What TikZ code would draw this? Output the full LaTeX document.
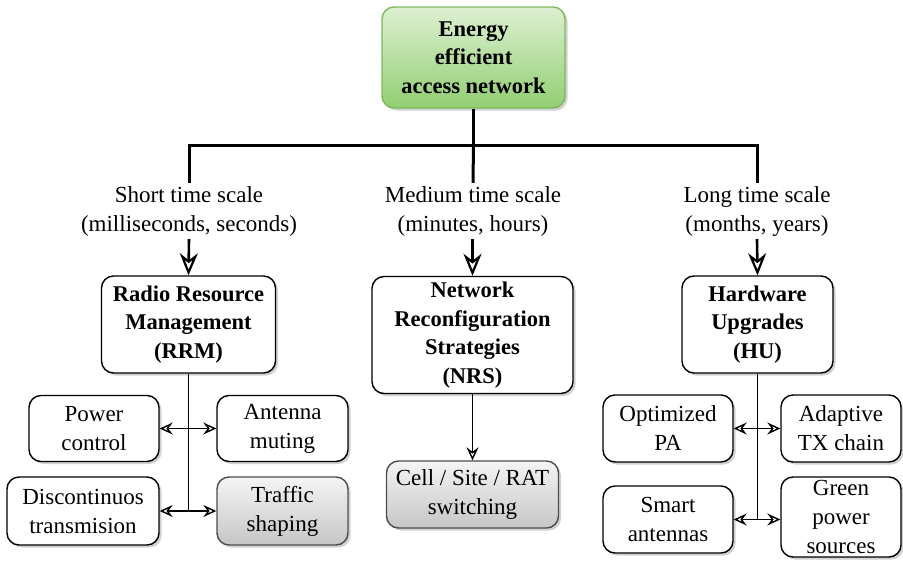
\documentclass[tikz,border=0pt]{standalone}
\usepackage{fontspec}
\setmainfont{Liberation Serif}
\usetikzlibrary{arrows.meta,shadows}
\definecolor{gtop}{HTML}{DDF0D2}
\definecolor{gbot}{HTML}{92CE72}
\definecolor{gbord}{HTML}{7DB85C}
\definecolor{stop}{HTML}{F4F4F4}
\definecolor{sbot}{HTML}{C6C6C6}
\tikzset{
  box/.style={draw=black, line width=1.4pt, rounded corners=12pt, fill=white, align=center,
    inner sep=0pt, font=\fontsize{23}{29}\selectfont,
    drop shadow={shadow xshift=2.5pt, shadow yshift=-2.5pt, fill=black!30, opacity=0.6}},
  bbox/.style={box, font=\fontsize{22.5}{28.5}\selectfont\bfseries},
  greenbox/.style={bbox, draw=gbord, top color=gtop, bottom color=gbot},
  graybox/.style={box, draw=black!70, top color=stop, bottom color=sbot},
  lbl/.style={align=center, inner sep=3pt, font=\fontsize{23}{29}\selectfont},
  trunk/.style={line width=3pt},
  bigarrow/.style={line width=2.6pt, -{Stealth[open, length=22pt, width=18pt, inset=7pt, line width=2.2pt]}},
  smallarrow/.style={line width=1.4pt, {Stealth[open, length=13pt, width=12pt, inset=4.5pt, line width=1.4pt]}-{Stealth[open, length=13pt, width=12pt, inset=4.5pt, line width=1.4pt]}},
  downarrow/.style={line width=1.4pt, -{Stealth[open, length=13pt, width=12pt, inset=4.5pt, line width=1.4pt]}},
  vline/.style={line width=1.4pt}
}
\begin{document}
\begin{tikzpicture}[x=1pt,y=-1pt]
\useasboundingbox (0,0) rectangle (903,563);
% top
\node[greenbox, minimum width=183pt, minimum height=101pt] (top) at (473.5,57.5) {Energy\\efficient\\access network};
% main boxes
\node[bbox, minimum width=174pt, minimum height=97pt] (rrm) at (188.5,324.5) {Radio Resource\\Management\\(RRM)};
\node[bbox, minimum width=201pt, minimum height=117pt] (nrs) at (472.5,335) {Network\\Reconfiguration\\Strategies\\(NRS)};
\node[bbox, minimum width=151pt, minimum height=97pt] (hu) at (757.5,324.5) {Hardware\\Upgrades\\(HU)};
% labels
\node[lbl] (short) at (189,211) {Short time scale\\(milliseconds, seconds)};
\node[lbl] (medium) at (473,211) {Medium time scale\\(minutes, hours)};
\node[lbl] (long) at (757,211) {Long time scale\\(months, years)};
% RRM children
\node[box, minimum width=130pt, minimum height=66pt] (pc) at (94,428.5) {Power\\control};
\node[box, minimum width=131pt, minimum height=66pt] (am) at (282.5,428.5) {Antenna\\muting};
\node[box, minimum width=152pt, minimum height=68pt] (dt) at (83,511) {Discontinuos\\transmision};
\node[graybox, minimum width=131pt, minimum height=68pt] (ts) at (282.5,511) {Traffic\\shaping};
% NRS child
\node[graybox, minimum width=172pt, minimum height=67pt] (cell) at (472.5,494.5) {Cell / Site / RAT\\switching};
% HU children
\node[box, minimum width=130pt, minimum height=67pt] (opa) at (668,428.5) {Optimized\\PA};
\node[box, minimum width=120pt, minimum height=67pt] (atx) at (841,428.5) {Adaptive\\TX chain};
\node[box, minimum width=130pt, minimum height=67pt] (sa) at (668,519.5) {Smart\\antennas};
\node[box, minimum width=120pt, minimum height=80pt] (gps) at (841,517) {Green\\power\\sources};
% trunk
\coordinate (jT) at (473.5,145);
\coordinate (jL) at (189,145);
\coordinate (jR) at (757,145);
\draw[trunk] (top.south) -- (jT);
\draw[trunk, line cap=rect] (jL) -- (jR);
\draw[trunk] (jL) -- (short.north);
\draw[trunk] (jT) -- (medium.north);
\draw[trunk] (jR) -- (long.north);
\draw[bigarrow] (short.south) -- (rrm.north);
\draw[bigarrow] (medium.south -| nrs.north) -- (nrs.north);
\draw[bigarrow] (long.south) -- (hu.north);
% RRM branch
\draw[vline] (rrm.south) -- (rrm.south |- dt.east);
\draw[smallarrow] (pc.east) -- (am.west);
\draw[smallarrow] (dt.east) -- (ts.west);
% NRS branch
\draw[downarrow] (nrs.south) -- (cell.north);
% HU branch
\draw[vline] (hu.south) -- (hu.south |- sa.east);
\draw[smallarrow] (opa.east) -- (atx.west);
\draw[smallarrow] (sa.east) -- (sa.east -| gps.west);
\end{tikzpicture}
\end{document}
